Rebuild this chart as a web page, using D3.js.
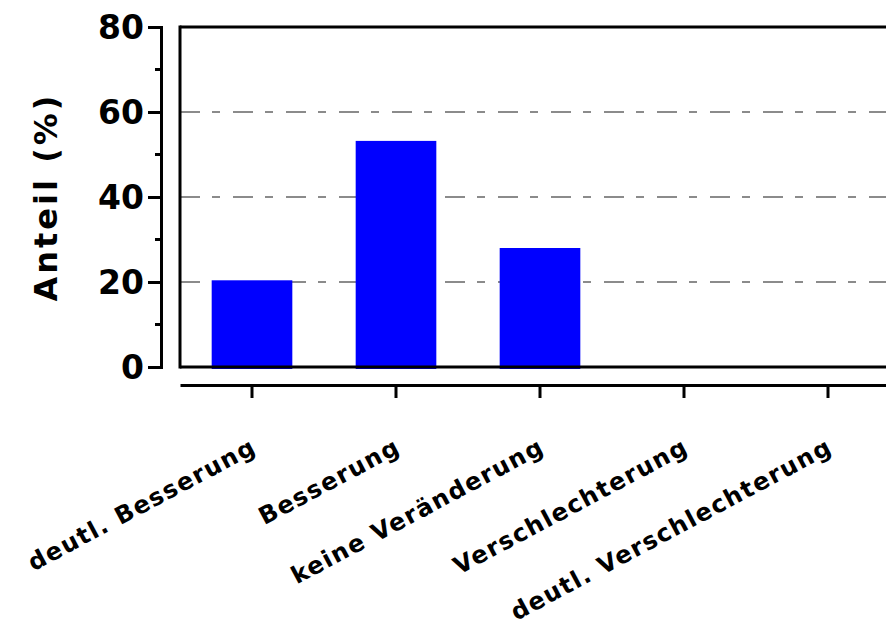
<!DOCTYPE html>
<html>
<head>
<meta charset="utf-8">
<script src="https://cdn.jsdelivr.net/npm/d3@7"></script>
<style>
  body { margin: 0; background: #fff; }
  svg text { font-family: "Comic Sans MS", "DejaVu Sans", sans-serif; font-weight: bold; fill: #000; }
</style>
</head>
<body>
<svg id="chart" width="886" height="637"></svg>
<script>
const categories = ['deutl. Besserung', 'Besserung', 'keine Veränderung', 'Verschlechterung', 'deutl. Verschlechterung'];
const values = [20.4, 53.2, 28.0, 0, 0];
const yTicks = [0, 20, 40, 60, 80];
const yMinorTicks = [10, 30, 50, 70];
const gridTicks = [20, 40, 60];

const svg = d3.select('#chart');

const yScale = d3.scaleLinear().domain([0, 80]).range([367, 27]);
const xScale = d3.scaleBand().domain(categories).range([180, 900]).paddingInner(0.44).paddingOuter(0.22);

// grid lines (dash-dot)
svg.append('g')
  .attr('class', 'grid')
  .selectAll('line')
  .data(gridTicks)
  .enter()
  .append('line')
  .attr('x1', 180)
  .attr('x2', 900)
  .attr('y1', (d) => yScale(d))
  .attr('y2', (d) => yScale(d))
  .attr('stroke', '#666')
  .attr('stroke-width', 1.5)
  .attr('stroke-dasharray', '20,12,8,13');

// bars (zero bars are not drawn)
svg.append('g')
  .attr('class', 'bars')
  .selectAll('rect')
  .data(values.filter((d) => d > 0))
  .enter()
  .append('rect')
  .attr('x', (d, i) => xScale(categories[i]))
  .attr('width', xScale.bandwidth())
  .attr('y', (d) => yScale(d))
  .attr('height', (d) => yScale(0) - yScale(d) + 2)
  .attr('fill', '#0000ff');

// frame: top line, left line, zero line
const frame = svg.append('g').attr('stroke', '#000').attr('stroke-width', 3);
frame.append('line').attr('x1', 180).attr('x2', 900).attr('y1', yScale(80)).attr('y2', yScale(80));
frame.append('line').attr('x1', 180).attr('x2', 180).attr('y1', yScale(80) - 1.5).attr('y2', yScale(0) + 1.5);
frame.append('line').attr('x1', 180).attr('x2', 900).attr('y1', yScale(0)).attr('y2', yScale(0));

// y axis (offset to the left)
const yAxis = d3.axisLeft(yScale).tickValues(yTicks).tickSize(13).tickSizeOuter(0).tickPadding(4);
const yG = svg.append('g').attr('class', 'yAxis').attr('transform', 'translate(161,0)').call(yAxis);
yG.selectAll('line').attr('stroke-width', 3);
yG.select('.domain').attr('stroke-width', 3).attr('stroke-linecap', 'square');
yG.selectAll('text').attr('font-size', '33px').attr('dy', '0.36em');
yG.selectAll('.minor')
  .data(yMinorTicks)
  .enter()
  .append('line')
  .attr('class', 'minor')
  .attr('x1', -6)
  .attr('x2', 0)
  .attr('y1', (d) => yScale(d))
  .attr('y2', (d) => yScale(d))
  .attr('stroke', '#000')
  .attr('stroke-width', 3);

svg.append('text')
  .attr('transform', `translate(57, ${yScale(40)}) rotate(-90)`)
  .attr('text-anchor', 'middle')
  .attr('font-size', '32px')
  .attr('letter-spacing', '3px')
  .text('Anteil (%)');

// x axis (offset below)
const xAxis = d3.axisBottom(xScale).tickSize(13).tickSizeOuter(0).tickFormat('');
const xG = svg.append('g').attr('class', 'xAxis').attr('transform', 'translate(0,385)').call(xAxis);
xG.selectAll('line').attr('stroke-width', 3);
xG.select('.domain').attr('stroke-width', 3);

svg.append('g')
  .attr('class', 'xLabels')
  .selectAll('text')
  .data(categories)
  .enter()
  .append('text')
  .attr('transform', (d) => `translate(${xScale(d) + xScale.bandwidth() / 2 + 6}, 452) rotate(-28)`)
  .attr('text-anchor', 'end')
  .attr('font-size', '24px')
  .attr('letter-spacing', '1.5px')
  .text((d) => d);
</script>
</body>
</html>
